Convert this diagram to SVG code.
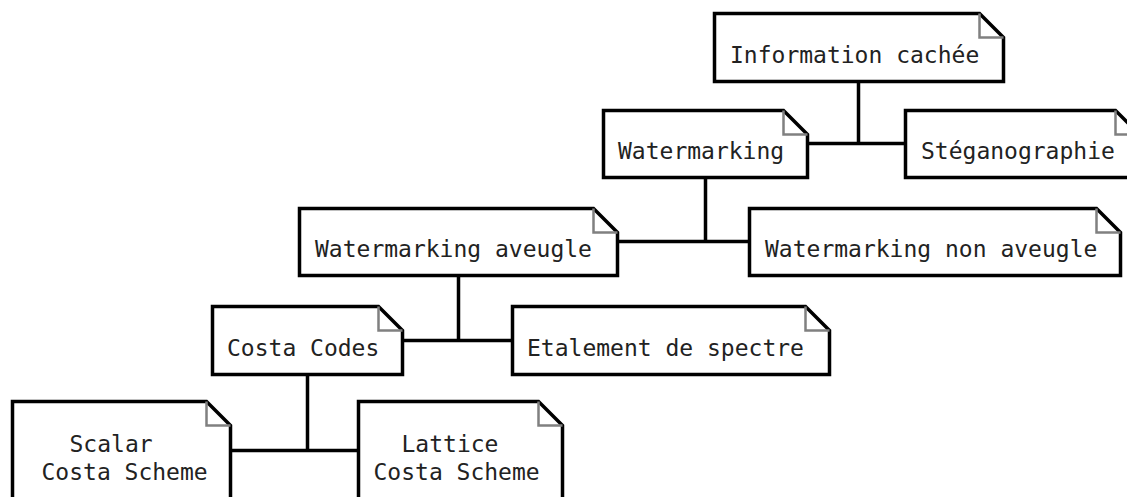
<svg xmlns="http://www.w3.org/2000/svg" width="1127" height="497" viewBox="0 0 1127 497">
<style>
.box{fill:#ffffff;stroke:#000000;stroke-width:3.5;stroke-linejoin:miter}
.fold{fill:none;stroke:#808080;stroke-width:2.5}
.lbl{font-family:"DejaVu Sans Mono",monospace;font-size:23px;fill:#222222}
.conn{fill:none;stroke:#000000;stroke-width:3.5}
</style>
<rect width="1127" height="497" fill="#ffffff"/>
<g id="connectors">
<path class="conn" d="M858.5,81 V143.5 M807,143.5 H905"/>
<path class="conn" d="M705.5,177 V241.5 M617,241.5 H749"/>
<path class="conn" d="M458.5,275 V340.5 M402,340.5 H512"/>
<path class="conn" d="M307.5,374 V450.5 M230,450.5 H358"/>
</g>
<g id="n-information">
<path class="box" d="M714.5,13.5 H979.5 L1003.5,37.5 V81.5 H714.5 Z"/>
<path class="fold" d="M979.5,13.5 V37.5 H1003.5"/>
<text class="lbl" x="730" y="63">Information cachée</text>
</g>
<g id="n-watermarking">
<path class="box" d="M603.5,110.5 H783.5 L807.5,134.5 V177.5 H603.5 Z"/>
<path class="fold" d="M783.5,110.5 V134.5 H807.5"/>
<text class="lbl" x="618" y="159">Watermarking</text>
</g>
<g id="n-steganographie">
<path class="box" d="M905.5,110.5 H1115.5 L1139.5,134.5 V177.5 H905.5 Z"/>
<path class="fold" d="M1115.5,110.5 V134.5 H1139.5"/>
<text class="lbl" x="921" y="159">Stéganographie</text>
</g>
<g id="n-aveugle">
<path class="box" d="M299.5,208.5 H593.5 L617.5,232.5 V275.5 H299.5 Z"/>
<path class="fold" d="M593.5,208.5 V232.5 H617.5"/>
<text class="lbl" x="315" y="257">Watermarking aveugle</text>
</g>
<g id="n-non-aveugle">
<path class="box" d="M749.5,208.5 H1096.5 L1120.5,232.5 V275.5 H749.5 Z"/>
<path class="fold" d="M1096.5,208.5 V232.5 H1120.5"/>
<text class="lbl" x="765" y="257">Watermarking non aveugle</text>
</g>
<g id="n-costa-codes">
<path class="box" d="M212.5,306.5 H378.5 L402.5,330.5 V374.5 H212.5 Z"/>
<path class="fold" d="M378.5,306.5 V330.5 H402.5"/>
<text class="lbl" x="227" y="356">Costa Codes</text>
</g>
<g id="n-etalement">
<path class="box" d="M512.5,306.5 H805.5 L829.5,330.5 V374.5 H512.5 Z"/>
<path class="fold" d="M805.5,306.5 V330.5 H829.5"/>
<text class="lbl" x="527" y="356">Etalement de spectre</text>
</g>
<g id="n-scalar">
<path class="box" d="M12.5,401.5 H206.5 L230.5,425.5 V510 H12.5 Z"/>
<path class="fold" d="M206.5,401.5 V425.5 H230.5"/>
<text class="lbl" x="69.5" y="452">Scalar</text>
<text class="lbl" x="41.5" y="480">Costa Scheme</text>
</g>
<g id="n-lattice">
<path class="box" d="M358.5,401.5 H538.5 L562.5,425.5 V510 H358.5 Z"/>
<path class="fold" d="M538.5,401.5 V425.5 H562.5"/>
<text class="lbl" x="401.5" y="452">Lattice</text>
<text class="lbl" x="373.5" y="480">Costa Scheme</text>
</g>
</svg>
